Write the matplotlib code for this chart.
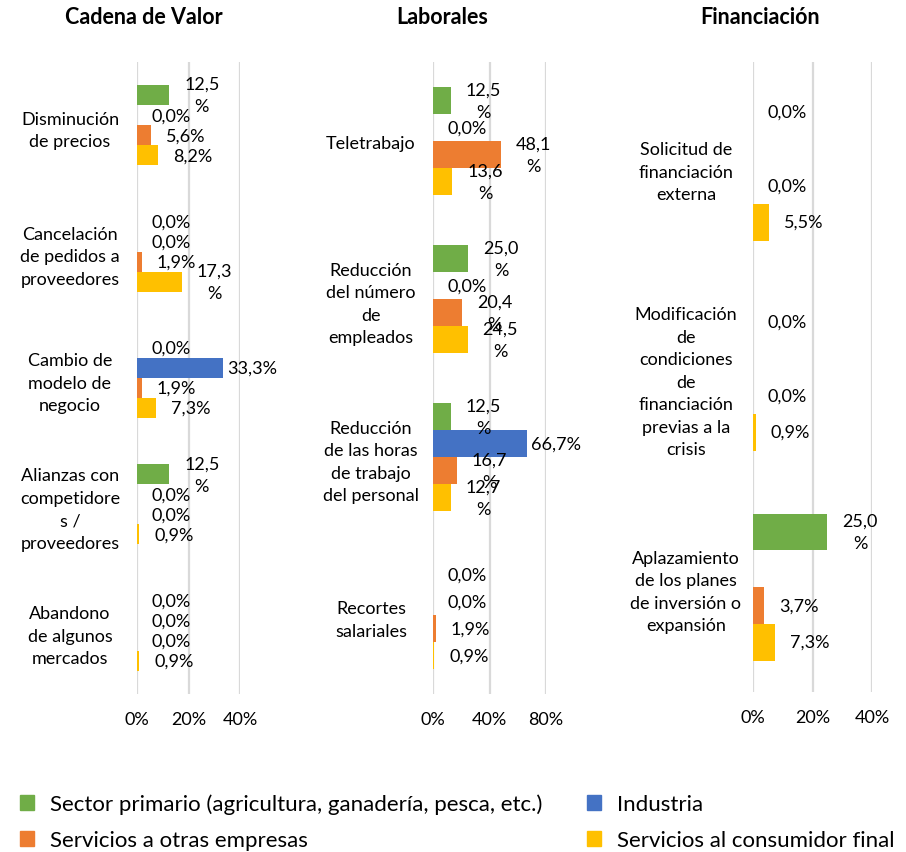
import matplotlib
matplotlib.use("Agg")
import matplotlib.pyplot as plt
import numpy as np
from matplotlib.patches import Patch

plt.rcParams["font.family"] = ["Lato", "DejaVu Sans"]

# series (top to bottom inside every group)
SERIES = [
    "Sector primario (agricultura, ganadería, pesca, etc.)",
    "Industria",
    "Servicios a otras empresas",
    "Servicios al consumidor final",
]
COLORS = ["#70AD47", "#4472C4", "#ED7D31", "#FFC000"]

# ── Cadena de Valor ──
cadena_cats = [
    "Disminución\nde precios",
    "Cancelación\nde pedidos a\nproveedores",
    "Cambio de\nmodelo de\nnegocio",
    "Alianzas con\ncompetidore\ns /\nproveedores",
    "Abandono\nde algunos\nmercados",
]
cadena_primario = [12.5, 0.0, 0.0, 12.5, 0.0]
cadena_industria = [0.0, 0.0, 33.3, 0.0, 0.0]
cadena_otras = [5.6, 1.9, 1.9, 0.0, 0.0]
cadena_consumidor = [8.2, 17.3, 7.3, 0.9, 0.9]

# ── Laborales ──
laborales_cats = [
    "Teletrabajo",
    "Reducción\ndel número\nde\nempleados",
    "Reducción\nde las horas\nde trabajo\ndel personal",
    "Recortes\nsalariales",
]
laborales_primario = [12.5, 25.0, 12.5, 0.0]
laborales_industria = [0.0, 0.0, 66.7, 0.0]
laborales_otras = [48.1, 20.4, 16.7, 1.9]
laborales_consumidor = [13.6, 24.5, 12.7, 0.9]

# ── Financiación ── (no Industria data)
financ_cats = [
    "Solicitud de\nfinanciación\nexterna",
    "Modificación\nde\ncondiciones\nde\nfinanciación\nprevias a la\ncrisis",
    "Aplazamiento\nde los planes\nde inversión o\nexpansión",
]
financ_primario = [0.0, 0.0, 25.0]
financ_industria = [np.nan, np.nan, np.nan]
financ_otras = [0.0, 0.0, 3.7]
financ_consumidor = [5.5, 0.9, 7.3]

panels = [
    dict(title="Cadena de Valor", cats=cadena_cats,
         data=[cadena_primario, cadena_industria, cadena_otras, cadena_consumidor],
         xmax=40, ticks=[0, 20, 40], rect=[137, 63, 240, 695], bar_h=0.158,
         pad=67, title_x=144),
    dict(title="Laborales", cats=laborales_cats,
         data=[laborales_primario, laborales_industria, laborales_otras, laborales_consumidor],
         xmax=80, ticks=[0, 40, 80], rect=[433, 63, 546, 695], bar_h=0.171,
         pad=62, title_x=442),
    dict(title="Financiación", cats=financ_cats,
         data=[financ_primario, financ_industria, financ_otras, financ_consumidor],
         xmax=40, ticks=[0, 20, 40], rect=[753, 63, 872, 693], bar_h=0.175,
         pad=67, title_x=760),
]

W, H = 906, 853
FS = 13
fig = plt.figure(figsize=(W / 100, H / 100), dpi=100, facecolor="white")


def fmt(v):
    s = f"{v:.1f}".replace(".", ",")
    # long labels wrap in the original
    return s + ("\n%" if 10 <= v < 30 or 40 <= v < 60 else "%")


for p in panels:
    x0, y0, x1, y1 = p["rect"]
    ax = fig.add_axes([x0 / W, 1 - y1 / H, (x1 - x0) / W, (y1 - y0) / H])
    n = len(p["cats"])
    y = np.arange(n)
    h = p["bar_h"]
    for k, (vals, col) in enumerate(zip(p["data"], COLORS)):
        yy = y + (k - 1.5) * h
        vals = np.asarray(vals, dtype=float)
        ax.barh(yy, np.nan_to_num(vals), height=h, color=col, zorder=3)
        for v, yc in zip(vals, yy):
            if np.isnan(v):
                continue
            off = 4 if (k == 1 and v > 0) else 15
            ax.annotate(fmt(v), (v, yc), xytext=(off, 0), textcoords="offset pixels",
                        ha="left", va="center", multialignment="center", linespacing=1.5,
                        fontsize=FS, color="#000000", zorder=4, annotation_clip=False)
    ax.set_xlim(0, p["xmax"])
    ax.set_ylim(n - 0.5, -0.5)
    ax.set_xticks(p["ticks"])
    ax.set_xticklabels([f"{t}%" for t in p["ticks"]], fontsize=FS)
    ax.set_yticks(y)
    ax.set_yticklabels(p["cats"], fontsize=FS, ha="center", multialignment="center",
                       linespacing=1.5)
    ax.tick_params(axis="y", length=0, pad=p["pad"] * 0.72)
    ax.tick_params(axis="x", length=0, pad=12)
    for s in ax.spines.values():
        s.set_visible(False)
    ax.grid(axis="x", color="#D9D9D9", linewidth=1.6, zorder=0)
    ax.set_axisbelow(True)
    fig.text(p["title_x"] / W, 1 - 18 / H, p["title"], ha="center", va="center",
             fontsize=15.5, fontweight="bold")

handles = [Patch(color=COLORS[i]) for i in [0, 2, 1, 3]]
labels = [SERIES[i] for i in [0, 2, 1, 3]]
fig.legend(handles, labels, ncol=2, loc="upper left", bbox_to_anchor=(0.012, 1 - 786 / H),
           frameon=False, fontsize=16, handlelength=0.65, handleheight=0.65,
           handletextpad=0.7, columnspacing=2.0, labelspacing=0.7, borderaxespad=0)

fig.savefig("out.png", dpi=100, facecolor="white")
